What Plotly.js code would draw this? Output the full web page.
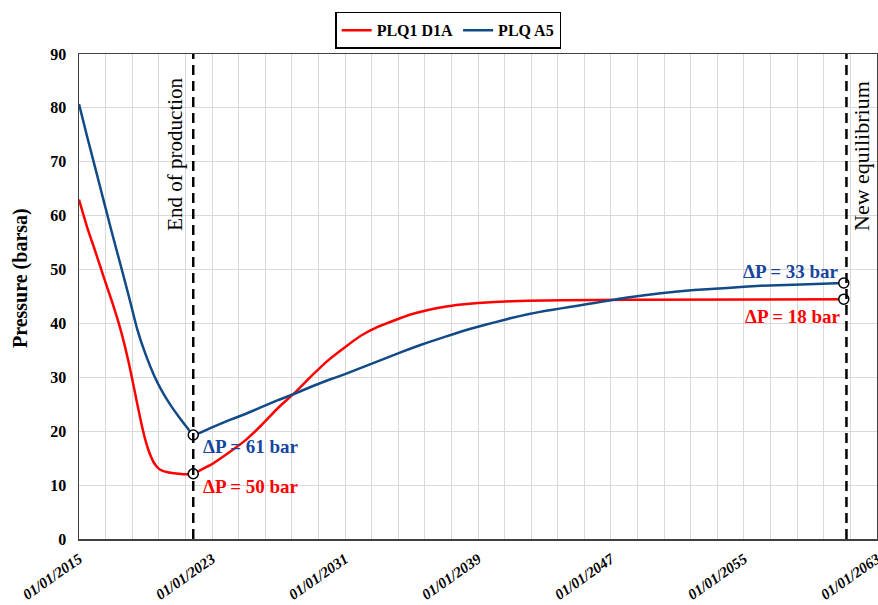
<!DOCTYPE html>
<html>
<head>
<meta charset="utf-8">
<script src="https://cdn.plot.ly/plotly-3.0.1.min.js"></script>
<style>
html,body{margin:0;padding:0;background:#fff;}
#chart{width:878px;height:605px;}
</style>
</head>
<body>
<div id="chart"></div>
<script>
// ---- Data ----
const seriesNames = ['PLQ1 D1A', 'PLQ A5'];

const redDates = ['2015-01-01','2015-07-01','2016-01-01','2016-07-01','2017-01-01','2017-07-01','2018-01-01','2018-07-01','2018-10-01','2019-01-01','2019-04-01','2019-07-01','2019-10-01','2020-01-01','2020-07-01','2021-01-01','2021-07-01','2021-11-15','2022-07-01','2023-01-01','2024-01-01','2025-01-01','2026-01-01','2027-01-01','2028-01-01','2029-01-01','2030-01-01','2031-01-01','2032-01-01','2033-01-01','2034-01-01','2035-01-01','2036-01-01','2037-01-01','2038-01-01','2039-01-01','2040-01-01','2042-01-01','2044-01-01','2048-01-01','2061-01-01'];
const redValues = [63.0,57.8,53.2,48.5,43.9,38.9,32.6,25.2,21.5,18.3,15.9,14.2,13.2,12.7,12.3,12.1,12.0,12.1,13.1,13.9,16.0,18.3,21.2,24.4,27.2,30.3,33.2,35.6,37.8,39.4,40.6,41.7,42.5,43.1,43.5,43.8,44.0,44.2,44.3,44.4,44.5];

const blueDates = ['2015-01-01','2015-07-01','2016-01-01','2016-07-01','2017-01-01','2017-07-01','2018-01-01','2018-07-01','2019-01-01','2019-07-01','2020-01-01','2020-07-01','2021-01-01','2021-07-01','2021-11-15','2023-01-01','2024-01-01','2025-01-01','2026-01-01','2027-01-01','2028-01-01','2029-01-01','2030-01-01','2031-01-01','2032-01-01','2033-01-01','2034-01-01','2035-01-01','2036-01-01','2037-01-01','2038-01-01','2039-01-01','2040-01-01','2041-01-01','2042-01-01','2043-01-01','2044-01-01','2045-01-01','2046-01-01','2047-01-01','2048-01-01','2050-01-01','2052-01-01','2054-01-01','2056-01-01','2058-01-01','2061-01-01'];
const blueValues = [80.7,74.6,68.6,62.6,56.6,50.9,45.0,39.0,34.3,30.5,27.4,24.9,22.7,20.7,19.3,20.7,22.0,23.2,24.5,25.8,27.0,28.3,29.5,30.6,31.8,33.0,34.2,35.4,36.5,37.5,38.5,39.4,40.2,41.0,41.7,42.3,42.8,43.3,43.8,44.3,44.8,45.6,46.2,46.6,47.0,47.2,47.5];

const markerDates = ['2021-11-15','2021-11-15','2061-01-01','2061-01-01'];
const markerValues = [12.1, 19.3, 44.5, 47.5];

const eventDates = ['2021-11-15','2061-03-01'];
const eventLabels = ['End of production','New equilibrium'];

const deltaLabels = ['ΔP = 61 bar','ΔP = 50 bar','ΔP = 33 bar','ΔP = 18 bar'];

const tickDates = ['2015-01-01','2023-01-01','2031-01-01','2039-01-01','2047-01-01','2055-01-01','2063-01-01'];
const tickLabels = ['01/01/2015','01/01/2023','01/01/2031','01/01/2039','01/01/2047','01/01/2055','01/01/2063'];
const yTitle = 'Pressure (barsa)';

const xRange = ['2015-01-01','2063-01-01 04:00'];
const yRange = [0, 90];

// ---- Styles ----
const RED = '#ff0000';
const BLUE = '#124a88';
const BLUE_TXT = '#1746a0';
const FONT = '"Liberation Serif", "Times New Roman", serif';
const DAY = 86400000;

const traces = [
  {x: redDates, y: redValues, name: seriesNames[0], type: 'scatter', mode: 'lines',
   line: {color: RED, width: 2.5, shape: 'spline', smoothing: 0.5}},
  {x: blueDates, y: blueValues, name: seriesNames[1], type: 'scatter', mode: 'lines',
   line: {color: BLUE, width: 2.5, shape: 'spline', smoothing: 0.5}},
  {x: markerDates, y: markerValues, type: 'scatter', mode: 'markers', showlegend: false,
   marker: {size: 10, color: '#ffffff', line: {color: '#000000', width: 1.5}}}
];

const shapes = eventDates.map(d => ({
  type: 'line', xref: 'x', yref: 'paper', x0: d, x1: d, y0: 0, y1: 1,
  line: {color: '#000000', width: 2.5, dash: '10px,6px'}
}));

const annotations = [
  {x: eventDates[0], y: 90, xref: 'x', yref: 'y', text: eventLabels[0], textangle: -90,
   showarrow: false, xanchor: 'right', yanchor: 'top', xshift: -5, yshift: -22,
   font: {family: FONT, size: 21, color: '#000'}},
  {x: eventDates[1], y: 90, xref: 'x', yref: 'y', text: eventLabels[1], textangle: -90,
   showarrow: false, xanchor: 'left', yanchor: 'top', xshift: 0, yshift: -25,
   font: {family: FONT, size: 22, color: '#000'}},
  {x: markerDates[1], y: markerValues[1], text: '<b>' + deltaLabels[0] + '</b>', showarrow: false,
   xanchor: 'left', yanchor: 'middle', xshift: 8, yshift: -12, font: {family: FONT, size: 19, color: BLUE_TXT}},
  {x: markerDates[0], y: markerValues[0], text: '<b>' + deltaLabels[1] + '</b>', showarrow: false,
   xanchor: 'left', yanchor: 'middle', xshift: 8, yshift: -13, font: {family: FONT, size: 19, color: RED}},
  {x: markerDates[3], y: markerValues[3], text: '<b>' + deltaLabels[2] + '</b>', showarrow: false,
   xanchor: 'right', yanchor: 'middle', xshift: -3, yshift: 12, font: {family: FONT, size: 19, color: BLUE_TXT}},
  {x: markerDates[2], y: markerValues[2], text: '<b>' + deltaLabels[3] + '</b>', showarrow: false,
   xanchor: 'right', yanchor: 'middle', xshift: -1, yshift: -17, font: {family: FONT, size: 19, color: RED}},
  {x: 0, y: 0.538, xref: 'paper', yref: 'paper', text: '<b>' + yTitle + '</b>', textangle: -90,
   showarrow: false, xanchor: 'center', yanchor: 'middle', xshift: -59,
   font: {family: FONT, size: 20, color: '#000'}}
];

const layout = {
  width: 878, height: 605,
  margin: {l: 79, r: 1, t: 54, b: 66},
  paper_bgcolor: '#ffffff', plot_bgcolor: '#ffffff',
  showlegend: true,
  legend: {orientation: 'h', x: 0.321, xanchor: 'left', y: 1.087, yanchor: 'top',
           bordercolor: '#000000', borderwidth: 1.5, itemwidth: 30,
           font: {family: FONT, size: 16, color: '#000', weight: 'bold'}},
  xaxis: {type: 'date', range: xRange, tickmode: 'array', tickvals: tickDates, ticktext: tickLabels,
          tickangle: -35, ticklabeloverflow: 'allow',
          tickfont: {family: FONT, size: 15, color: '#000', weight: 'bold', style: 'italic'},
          showgrid: true, gridcolor: '#d9d9d9', gridwidth: 1,
          minor: {tickmode: 'linear', tick0: tickDates[0], dtick: 2922 / 5 * DAY, showgrid: true, gridcolor: '#d9d9d9', gridwidth: 1},
          showline: true, linecolor: '#404040', linewidth: 1.5, mirror: true,
          ticks: '', zeroline: false, ticklabelstandoff: 4},
  yaxis: {range: yRange, dtick: 10, tick0: 0,
          tickfont: {family: FONT, size: 16, color: '#000', weight: 'bold'},
          showgrid: true, gridcolor: '#d9d9d9', gridwidth: 1,
          showline: true, linecolor: '#404040', linewidth: 1.5, mirror: true,
          ticks: '', zeroline: false, ticklabelstandoff: 8},
  shapes: shapes,
  annotations: annotations
};

Plotly.newPlot('chart', traces, layout, {displayModeBar: false, staticPlot: true});
</script>
</body>
</html>
